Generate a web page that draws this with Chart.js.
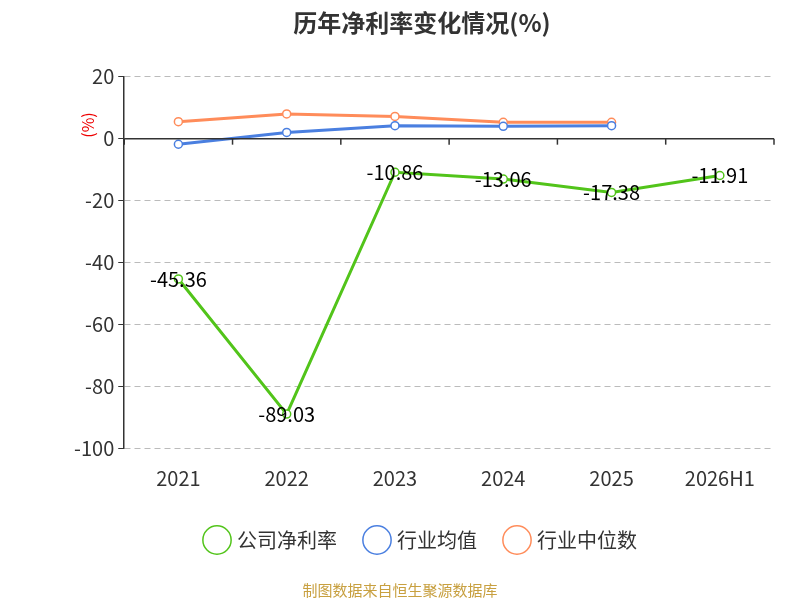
<!DOCTYPE html>
<html><head><meta charset="utf-8">
<script src="https://cdn.jsdelivr.net/npm/chart.js@4"></script>
<style>body{margin:0;background:#fff}#w{width:800px;height:600px;position:relative}</style>
</head><body><div id="w"><canvas id="c" width="800" height="600"></canvas></div>
<script>
const categories=['2021','2022','2023','2024','2025','2026H1'];
const companyRate=[-45.36,-89.03,-10.86,-13.06,-17.38,-11.91];
const industryAvg=[-1.8,2.0,4.2,4.0,4.2,null];
const industryMedian=[5.5,8.0,7.2,5.3,5.3,null];
const yTicks=[20,0,-20,-40,-60,-80,-100];
const F="'Noto Sans CJK SC','Noto Sans',sans-serif";
const extras={id:'extras',afterDraw(ch){
  const c=ch.ctx,x=ch.scales.x,y=ch.scales.y;
  c.save();
  const y0=y.getPixelForValue(0);
  c.strokeStyle='#333';c.lineWidth=1.5;
  c.beginPath();c.moveTo(x.left,y0);c.lineTo(x.right,y0);c.stroke();
  for(let i=0;i<=categories.length;i++){
    const px=x.left+(x.right-x.left)*i/categories.length;
    c.beginPath();c.moveTo(px,y0);c.lineTo(px,y0+6);c.stroke();
  }
  c.fillStyle='#000';c.font='20px '+F;c.textAlign='center';c.textBaseline='middle';
  companyRate.forEach((v,i)=>{c.fillText(v.toFixed(2),x.getPixelForValue(i),y.getPixelForValue(v));});
  c.fillStyle='#e00';c.font='16px '+F;
  c.translate(88,125);c.rotate(-Math.PI/2);c.fillText('(%)',0,0);
  c.restore();
  c.save();c.fillStyle='#c8a040';c.font='15px '+F;c.textAlign='center';
  c.fillText('制图数据来自恒生聚源数据库',400,590);c.restore();
}};
new Chart(document.getElementById('c'),{type:'line',
data:{labels:categories,datasets:[
 {label:'公司净利率',data:companyRate,borderColor:'#52c41a',backgroundColor:'#fff',borderWidth:3,pointRadius:4,pointBorderWidth:1.5,tension:0},
 {label:'行业均值',data:industryAvg,borderColor:'#4a7fe0',backgroundColor:'#fff',borderWidth:3,pointRadius:4,pointBorderWidth:1.5},
 {label:'行业中位数',data:industryMedian,borderColor:'#ff8c5a',backgroundColor:'#fff',borderWidth:3,pointRadius:4,pointBorderWidth:1.5}]},
options:{responsive:false,animation:false,devicePixelRatio:1,
 layout:{padding:{left:70,right:26,top:0,bottom:40}},
 plugins:{title:{display:true,text:'历年净利率变化情况(%)',font:{size:24,weight:'bold',family:F},color:'#333',padding:{top:8,bottom:40}},
  legend:{position:'bottom',labels:{usePointStyle:true,pointStyle:'circle',boxWidth:22,boxHeight:22,padding:30,font:{size:20,family:F},color:'#333'}},
  tooltip:{enabled:false}},
 scales:{
  x:{offset:true,grid:{display:false},border:{display:false},ticks:{font:{size:20,family:F},color:'#333',padding:10,maxRotation:0}},
  y:{min:-100,max:20,afterBuildTicks(s){s.ticks=yTicks.map(v=>({value:v}));},
   grid:{color:'#bbb',drawTicks:true,tickLength:6,tickColor:'#333'},border:{dash:[6,4],display:true,color:'#333',width:1.5},
   ticks:{font:{size:20,family:F},color:'#333',padding:4}}}},
plugins:[extras]});
</script>
</body></html>
